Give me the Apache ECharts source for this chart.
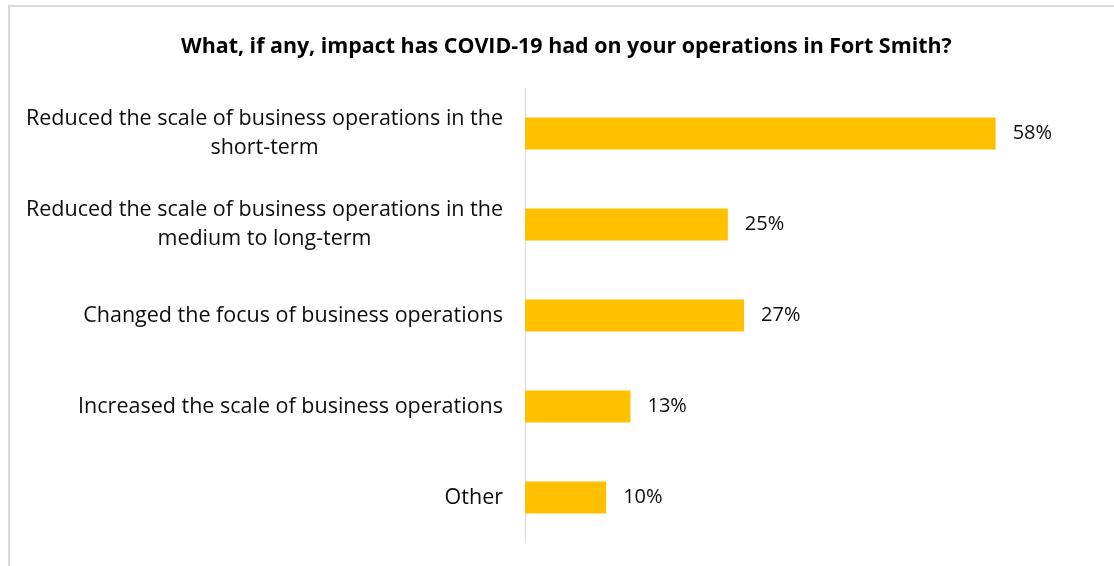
<!DOCTYPE html>
<html>
<head>
<meta charset="utf-8">
<script src="https://cdn.jsdelivr.net/npm/echarts@6/dist/echarts.min.js"></script>
<style>
  html, body { margin: 0; padding: 0; background: #fff; }
  #main { width: 1114px; height: 566px; }
</style>
</head>
<body>
<div id="main"></div>
<script>
// categories, top to bottom
var categories = [
    'Reduced the scale of business operations in the\nshort-term',
    'Reduced the scale of business operations in the\nmedium to long-term',
    'Changed the focus of business operations',
    'Increased the scale of business operations',
    'Other'
];
// percent of respondents
var values = [58, 25, 27, 13, 10];

var titleText = 'What, if any, impact has COVID-19 had on your operations in Fort Smith?';

var myChart = echarts.init(document.getElementById('main'));
var option = {
    backgroundColor: '#fff',
    animation: false,
    textStyle: { fontFamily: 'Open Sans' },
    title: {
        text: titleText,
        left: 176,
        top: 31,
        textStyle: { fontFamily: 'Open Sans', fontSize: 21.4, fontWeight: 'bold', color: '#000' }
    },
    graphic: [
        {
            type: 'rect',
            shape: { x: 9, y: 6, width: 1200, height: 700 },
            style: { fill: 'none', stroke: '#d9d9d9', lineWidth: 2 },
            silent: true
        }
    ],
    grid: { left: 525, right: 21, top: 88, bottom: 23, containLabel: false },
    xAxis: {
        type: 'value',
        min: 0,
        max: 70,
        show: false,
        splitLine: { show: false }
    },
    yAxis: {
        type: 'category',
        inverse: true,
        data: categories,
        axisTick: { show: false },
        axisLine: { show: true, lineStyle: { color: '#d9d9d9', width: 1 } },
        axisLabel: {
            margin: 22,
            formatter: function (v) {
                // every line centred inside the block, block right-aligned
                return v.split('\n').map(function (l) { return '{c|' + l + '}'; }).join('\n');
            },
            rich: {
                c: { align: 'center', fontFamily: 'Open Sans', fontSize: 21.5, lineHeight: 29, color: '#0d0d0d' }
            }
        }
    },
    series: [
        {
            type: 'bar',
            data: values,
            barWidth: 32,
            itemStyle: { color: '#ffc000' },
            label: {
                show: true,
                position: 'right',
                distance: 17,
                formatter: '{c}%',
                fontFamily: 'Open Sans',
                fontSize: 20,
                color: '#0d0d0d'
            }
        }
    ]
};
myChart.setOption(option);
</script>
</body>
</html>
